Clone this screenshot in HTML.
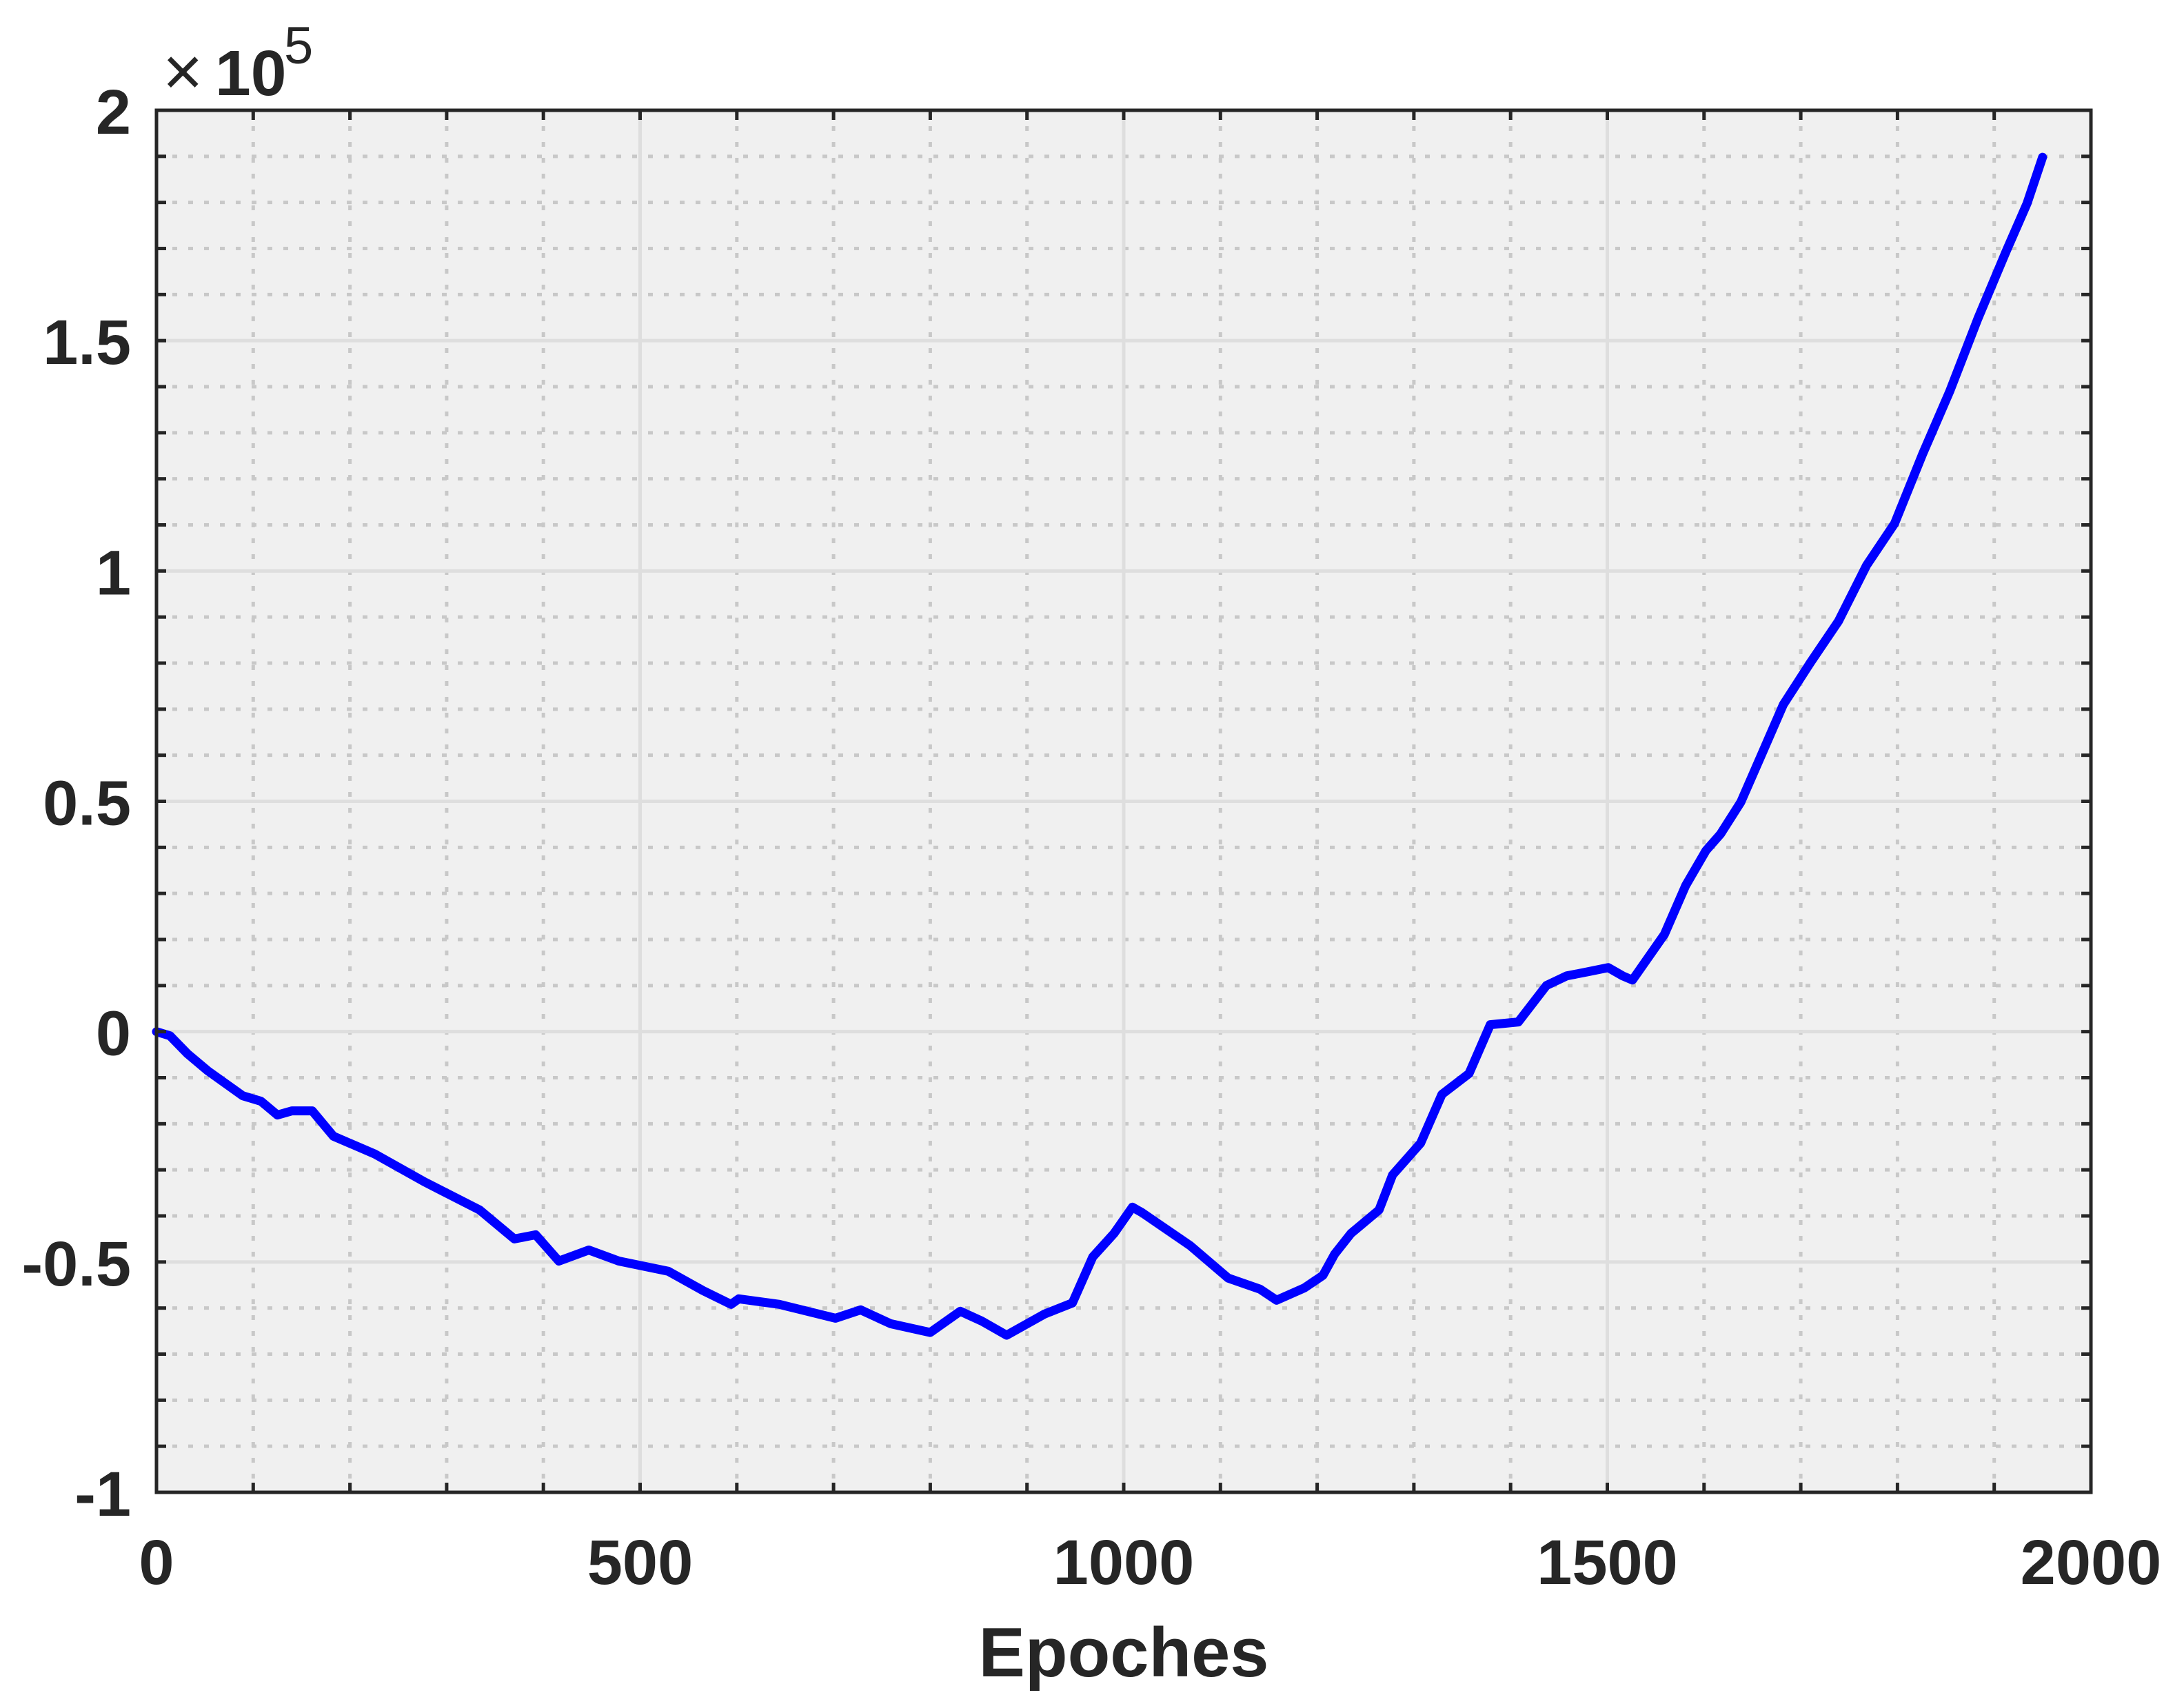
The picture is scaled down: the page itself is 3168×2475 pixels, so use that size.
<!DOCTYPE html>
<html><head><meta charset="utf-8"><style>
html,body{margin:0;padding:0;background:#fff;}
svg{display:block;}
text{font-family:"Liberation Sans",Arial,sans-serif;font-weight:bold;fill:#262626;}
</style></head><body>
<svg id="chart" width="3168" height="2475" viewBox="0 0 3168 2475" xmlns="http://www.w3.org/2000/svg">
<rect x="227" y="160" width="2806" height="2005" fill="#f0f0f0"/>
<g id="grid"></g>
<g id="series"></g>
<g id="axes"></g>
<text x="1630" y="2432" font-size="101" text-anchor="middle">Epoches</text>
<g>
<text x="236" y="138" font-size="100" style="font-weight:normal">×</text>
<text x="312" y="138" font-size="93">10</text>
<text x="412" y="92" font-size="76" style="font-weight:normal">5</text>
</g>
</svg>
<script>
const epochs = [0,14,32,53,89,108,125,140,161,183,226,277,334,370,392,416,447,478,529,565,594,602,644,702,728,759,800,831,853,879,918,947,968,990,1009,1019,1069,1108,1141,1158,1187,1206,1218,1235,1264,1278,1307,1329,1357,1379,1408,1437,1458,1480,1501,1516,1526,1559,1581,1602,1617,1638,1660,1682,1710,1739,1768,1797,1826,1854,1883,1912,1934,1950];
const values = [0,-0.009,-0.048,-0.085,-0.139,-0.151,-0.181,-0.172,-0.172,-0.227,-0.266,-0.326,-0.387,-0.45,-0.441,-0.498,-0.474,-0.498,-0.52,-0.562,-0.592,-0.58,-0.592,-0.622,-0.604,-0.634,-0.653,-0.607,-0.628,-0.659,-0.613,-0.589,-0.489,-0.438,-0.381,-0.393,-0.465,-0.535,-0.559,-0.583,-0.556,-0.529,-0.483,-0.438,-0.387,-0.311,-0.242,-0.136,-0.091,0.015,0.021,0.1,0.121,0.13,0.139,0.121,0.112,0.211,0.317,0.393,0.429,0.498,0.604,0.71,0.801,0.891,1.012,1.103,1.254,1.39,1.547,1.692,1.798,1.898];
const xTicks = [0,500,1000,1500,2000];
const xTickLabels = ["0","500","1000","1500","2000"];
const yTicks = [-1,-0.5,0,0.5,1,1.5,2];
const yTickLabels = ["-1","-0.5","0","0.5","1","1.5","2"];

const L=227,R=3033,T=160,B=2165;
const xMin=0,xMax=2000,yMin=-1,yMax=2;
const sx=v=>L+(v-xMin)/(xMax-xMin)*(R-L);
const sy=v=>B-(v-yMin)/(yMax-yMin)*(B-T);
const NS="http://www.w3.org/2000/svg";
function mk(tag,attrs,parent){const e=document.createElementNS(NS,tag);for(const k in attrs)e.setAttribute(k,attrs[k]);parent.appendChild(e);return e;}
const grid=document.getElementById('grid'),axes=document.getElementById('axes'),series=document.getElementById('series');

for(let i=1;i<20;i++){const v=i*100;if(v%500===0)continue;
 const g=mk('line',{x1:sx(v),x2:sx(v),y1:T,y2:B,stroke:'#c8c8c8','stroke-width':5,'stroke-dasharray':'7 16'},grid);
 
 }
for(let i=-9;i<20;i++){const v=i/10;if(Math.abs(v*2-Math.round(v*2))<1e-9)continue;
 const g=mk('line',{x1:L,x2:R,y1:sy(v),y2:sy(v),stroke:'#c8c8c8','stroke-width':5,'stroke-dasharray':'7 16'},grid);
 
 }
xTicks.forEach(v=>{if(v===xMin||v===xMax)return;
 const g=mk('line',{x1:sx(v),x2:sx(v),y1:T,y2:B,stroke:'#dedede','stroke-width':5},grid);
 
 });
yTicks.forEach(v=>{if(v===yMin||v===yMax)return;
 const g=mk('line',{x1:L,x2:R,y1:sy(v),y2:sy(v),stroke:'#dedede','stroke-width':5},grid);
 
 });

const pts=epochs.map((e,i)=>sx(e).toFixed(1)+','+sy(values[i]).toFixed(1)).join(' ');
const line=mk('polyline',{points:pts,fill:'none',stroke:'#0000ff','stroke-width':13,'stroke-linejoin':'round','stroke-linecap':'round'},series);



const tl=14;
for(let i=0;i<=20;i++){const x=sx(i*100);
 const t1=mk('line',{x1:x,x2:x,y1:B,y2:B-tl,stroke:'#262626','stroke-width':5},axes);
 
 
 const t2=mk('line',{x1:x,x2:x,y1:T,y2:T+tl,stroke:'#262626','stroke-width':5},axes);
 
 }
for(let i=-10;i<=20;i++){const y=sy(i/10);
 const t1=mk('line',{x1:L,x2:L+tl,y1:y,y2:y,stroke:'#262626','stroke-width':5},axes);
 
 
 const t2=mk('line',{x1:R,x2:R-tl,y1:y,y2:y,stroke:'#262626','stroke-width':5},axes);
 
 }
const box=mk('rect',{x:L,y:T,width:R-L,height:B-T,fill:'none',stroke:'#262626','stroke-width':5},axes);



xTicks.forEach((v,i)=>{const t=mk('text',{x:sx(v),y:2298,'font-size':92,'text-anchor':'middle'},axes);t.textContent=xTickLabels[i];
 
 });
yTicks.forEach((v,i)=>{const t=mk('text',{x:190,y:sy(v)+34,'font-size':92,'text-anchor':'end'},axes);t.textContent=yTickLabels[i];
 
 });
</script>
</body></html>
